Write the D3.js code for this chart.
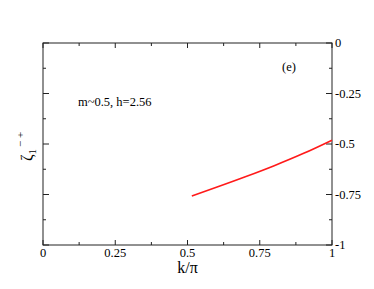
<!DOCTYPE html>
<html>
<head>
<meta charset="utf-8">
<script src="https://cdn.jsdelivr.net/npm/d3@7.9.0/dist/d3.min.js"></script>
<style>
  html, body { margin: 0; padding: 0; background: #fff; }
  text { font-family: "Liberation Serif", "Times New Roman", Times, "DejaVu Serif", serif; fill: #000; }
</style>
</head>
<body>
<svg id="chart" width="374" height="289"></svg>
<script>
// data
const kValues    = [0.515, 0.6, 0.7, 0.8, 0.9, 1.0];
const zetaValues = [-0.757, -0.7145, -0.6625, -0.6075, -0.5475, -0.481];
const xTicks = [0, 0.25, 0.5, 0.75, 1];
const xTickLabels = ['0', '0.25', '0.5', '0.75', '1'];
const yTicks = [0, -0.25, -0.5, -0.75, -1];
const yTickLabels = ['0', '-0.25', '-0.5', '-0.75', '-1'];

const M = { left: 43, right: 332, top: 43, bottom: 245 };
const svg = d3.select('#chart');

const x = d3.scaleLinear().domain([0, 1]).range([M.left, M.right]);
const y = d3.scaleLinear().domain([-1, 0]).range([M.bottom, M.top]);

const axisColor = '#222';

// ─── frame ──────────────────────────────────────────────
svg.append('rect')
  .attr('x', M.left).attr('y', M.top)
  .attr('width', M.right - M.left).attr('height', M.bottom - M.top)
  .attr('fill', 'none').attr('stroke', axisColor).attr('stroke-width', 1);

// ─── ticks (inward, major + minor) ─────────────────────
const minorX = d3.range(0.125, 1, 0.25);
const minorY = d3.range(-0.125, -1, -0.25);

function tickSet(vals, len) {
  vals.forEach(v => {
    svg.append('line').attr('x1', x(v)).attr('x2', x(v))
      .attr('y1', M.bottom).attr('y2', M.bottom - len)
      .attr('stroke', axisColor);
    svg.append('line').attr('x1', x(v)).attr('x2', x(v))
      .attr('y1', M.top).attr('y2', M.top + len)
      .attr('stroke', axisColor);
  });
}
function tickSetY(vals, len) {
  vals.forEach(v => {
    svg.append('line').attr('x1', M.left).attr('x2', M.left + len)
      .attr('y1', y(v)).attr('y2', y(v)).attr('stroke', axisColor);
    svg.append('line').attr('x1', M.right).attr('x2', M.right - len)
      .attr('y1', y(v)).attr('y2', y(v)).attr('stroke', axisColor);
  });
}
tickSet(xTicks, 5);
tickSet(minorX, 3);
tickSetY(yTicks, 6);
tickSetY(minorY, 3);

// ─── tick labels ────────────────────────────────────────
svg.selectAll('.xl').data(xTicks).join('text')
  .attr('x', d => x(d)).attr('y', M.bottom + 12)
  .attr('text-anchor', 'middle').style('font-size', '12.5px')
  .text((d, i) => xTickLabels[i]);

svg.selectAll('.yl').data(yTicks).join('text')
  .attr('x', M.right + 3).attr('y', d => y(d) + 4)
  .attr('text-anchor', 'start').style('font-size', '12.5px')
  .text((d, i) => yTickLabels[i]);

// ─── axis labels ────────────────────────────────────────
svg.append('text')
  .attr('x', (M.left + M.right) / 2).attr('y', 273)
  .attr('text-anchor', 'middle').style('font-size', '16px')
  .text('k/π');

const yl = svg.append('text')
  .attr('transform', 'translate(32,161) rotate(-90)')
  .style('font-size', '16px');
yl.append('tspan').text('ζ');
yl.append('tspan').attr('dy', 4).style('font-size', '11px').text('1');
yl.append('tspan').attr('dy', -12).attr('dx', 2).style('font-size', '11px').text('− +');

// ─── annotations ────────────────────────────────────────
svg.append('text').attr('x', 78).attr('y', 106)
  .style('font-size', '12.5px').text('m~0.5, h=2.56');
svg.append('text').attr('x', 282).attr('y', 71)
  .style('font-size', '12.5px').text('(e)');

// ─── curve ──────────────────────────────────────────────
const pts = kValues.map((k, i) => [k, zetaValues[i]]);
svg.append('path')
  .datum(pts)
  .attr('fill', 'none')
  .attr('stroke', '#ff1a1a')
  .attr('stroke-width', 1.6)
  .attr('d', d3.line().x(d => x(d[0])).y(d => y(d[1])).curve(d3.curveMonotoneX));
</script>
</body>
</html>
